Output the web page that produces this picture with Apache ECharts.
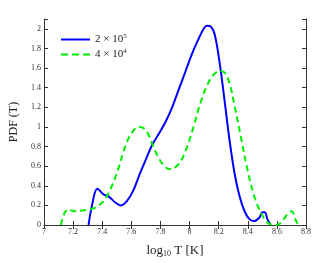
<!DOCTYPE html>
<html><head><meta charset="utf-8">
<script src="https://cdn.jsdelivr.net/npm/echarts@6/dist/echarts.min.js"></script>
<style>html,body{margin:0;padding:0;background:#fff}#c{width:323px;height:263px}</style>
</head><body><div id="c"></div>
<script>
const seriesNames = ['2 × 10{sup|5}', '4 × 10{sup|4}'];
const blueX = [7.306,7.33,7.366,7.411,7.445,7.49,7.528,7.568,7.613,7.658,7.703,7.748,7.793,7.838,7.883,7.928,7.973,8.018,8.063,8.097,8.119,8.148,8.175,8.209,8.243,8.276,8.31,8.344,8.378,8.411,8.445,8.479,8.501,8.517,8.535,8.557];
const blueY = [0,0.2,0.37,0.31,0.29,0.23,0.2,0.24,0.35,0.52,0.68,0.83,0.94,1.06,1.21,1.39,1.57,1.75,1.9,2.0,2.03,2.02,1.93,1.63,1.24,0.85,0.52,0.29,0.14,0.06,0.04,0.075,0.13,0.13,0.06,0];
const greenX = [7.115,7.142,7.164,7.209,7.276,7.333,7.378,7.422,7.467,7.512,7.546,7.58,7.613,7.647,7.681,7.715,7.748,7.782,7.816,7.861,7.894,7.939,7.984,8.029,8.074,8.119,8.164,8.209,8.243,8.276,8.31,8.355,8.4,8.445,8.49,8.535,8.58,8.613,8.647,8.681,8.703,8.726,8.748];
const greenY = [0,0.125,0.157,0.14,0.15,0.165,0.2,0.27,0.4,0.58,0.75,0.88,0.96,1.0,0.99,0.93,0.81,0.7,0.62,0.57,0.58,0.65,0.8,1.01,1.24,1.42,1.53,1.57,1.55,1.44,1.21,0.88,0.55,0.29,0.125,0.026,0,0.007,0.06,0.125,0.14,0.06,0];
const xTicks = {min:7, max:8.8, interval:0.2};
const yTicks = {min:0, max:2.1, interval:0.2};

const font = 'Liberation Serif';
const chart = echarts.init(document.getElementById('c'));
const zip = (xs, ys) => xs.map((x,i)=>[x, ys[i]]);
const baseX = {type:'value', min:xTicks.min, max:xTicks.max, interval:xTicks.interval,
  splitLine:{show:false}, axisLine:{show:true, lineStyle:{color:'#333', width:1}},
  axisTick:{inside:true, length:4, lineStyle:{color:'#333'}}};
const baseY = {type:'value', min:yTicks.min, max:yTicks.max, interval:yTicks.interval,
  splitLine:{show:false}, axisLine:{show:true, lineStyle:{color:'#333', width:1}},
  axisTick:{inside:true, length:4, lineStyle:{color:'#333'}}};
chart.setOption({
  animation:false,
  grid:{left:39, right:17, top:19, bottom:30, containLabel:false},
  legend:{
    left:56, top:28, orient:'vertical', itemGap:3, itemWidth:29, itemHeight:2,
    textStyle:{fontFamily:font, fontSize:11, color:'#222',
      rich:{sup:{fontSize:7, fontFamily:font, padding:[0,0,6,0], color:'#222'}}},
    data: [
      {name:seriesNames[0], icon:'path://M0,0H29V2H0Z'},
      {name:seriesNames[1], icon:'path://M0,0H7V2H0Z M11,0H18V2H11Z M22,0H29V2H22Z'}
    ]
  },
  xAxis:[
    Object.assign({}, baseX, {position:'bottom',
      axisLabel:{fontFamily:font, fontSize:8, color:'#333', margin:3,
        formatter: v => String(+v.toFixed(1))},
      name:'log{sub|10} T [K]', nameLocation:'middle', nameGap:19,
      nameTextStyle:{fontFamily:font, fontSize:13, color:'#222',
        rich:{sub:{fontSize:8, fontFamily:font, padding:[6,0,0,0], color:'#222'}}}}),
    Object.assign({}, baseX, {position:'top', axisLabel:{show:false}})
  ],
  yAxis:[
    Object.assign({}, baseY, {position:'left',
      axisLabel:{fontFamily:font, fontSize:8, color:'#333', margin:3,
        formatter: v => v > 2.05 ? '' : String(+v.toFixed(1))},
      name:'PDF (T)', nameLocation:'middle', nameGap:24, nameRotate:90,
      nameTextStyle:{fontFamily:font, fontSize:12, color:'#222'}}),
    Object.assign({}, baseY, {position:'right', axisLabel:{show:false}})
  ],
  series:[
    {name:seriesNames[0], type:'line', smooth:0.35, symbol:'none',
     lineStyle:{color:'#0000ff', width:2}, itemStyle:{color:'#0000ff'},
     data: zip(blueX, blueY)},
    {name:seriesNames[1], type:'line', smooth:0.35, symbol:'none',
     lineStyle:{color:'#00ee00', width:2, type:[6,4]}, itemStyle:{color:'#00ee00'},
     data: zip(greenX, greenY)}
  ]
});
</script></body></html>
